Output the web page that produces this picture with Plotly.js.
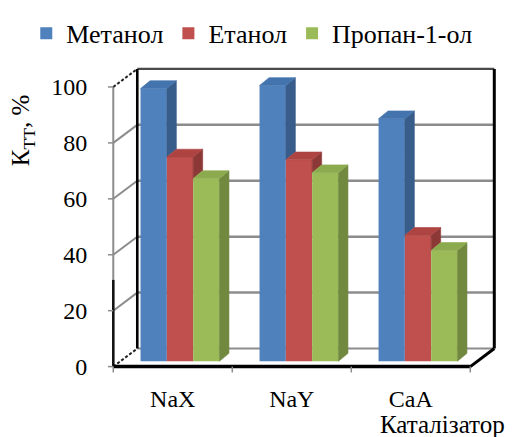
<!DOCTYPE html>
<html>
<head>
<meta charset="utf-8">
<script src="https://cdn.plot.ly/plotly-3.0.1.min.js"></script>
<style>
  html, body { margin: 0; padding: 0; background: #fff; }
  #chart { width: 516px; height: 437px; }
</style>
</head>
<body>
<div id="chart"></div>
<script>
// Conversion degree by catalyst and alcohol
const catalysts = ['NaX', 'NaY', 'CaA'];
const seriesNames = ['Метанол', 'Етанол', 'Пропан-1-ол'];
const methanol = [97.5, 98.6, 86.7];
const ethanol = [73, 72, 45];
const propanol = [65.3, 67.4, 39.6];
const yTicks = [0, 20, 40, 60, 80, 100];
const xTitle = 'Каталізатор';
const yTitle = 'К<sub>ТТ</sub>, %';

const series = [methanol, ethanol, propanol];
const frontColors = ['#4F81BD', '#C0504D', '#9BBB59'];
const topColors = ['#4474AE', '#AD4441', '#8CAA4E'];
const sideColors = ['#385D8A', '#8C3836', '#71893F'];

// Oblique projection of the 3-D box, in axis units
const WALL_DX = 0.2017, WALL_DY = 6.46;        // full depth of floor / side wall
const BAR_FRAC = 0.30;                           // bars stand 30 % into the depth
const BAR_X0 = WALL_DX * BAR_FRAC, BAR_Y0 = WALL_DY * BAR_FRAC;
const BAR_DX = 0.080, BAR_DY = 2.8;              // depth of each column
const BAR_W = 0.221;                             // width of each column
const X_LEFT = -0.5, X_RIGHT = catalysts.length - 0.5;
const Y_MAX = yTicks[yTicks.length - 1];

const FONT = 'Liberation Serif';
const GRID = '#8C8C8C';

const xIdx = catalysts.map((_, i) => i);
const traces = [];

// Front faces of the columns
series.forEach((vals, s) => {
  traces.push({
    type: 'bar',
    name: seriesNames[s],
    x: xIdx,
    y: vals,
    base: vals.map(() => BAR_Y0),
    width: BAR_W,
    offset: BAR_X0 + (s - 1.5) * BAR_W,
    marker: { color: frontColors[s], line: { width: 0 } },
    hovertemplate: seriesNames[s] + ' %{customdata}<extra></extra>',
    customdata: vals
  });
});

// Top and side faces (only the parts not hidden by the neighbour column)
function pushPoly(arr, pts) {
  pts.forEach(p => { arr.x.push(p[0]); arr.y.push(p[1]); });
  arr.x.push(pts[0][0]); arr.y.push(pts[0][1]);
  arr.x.push(null); arr.y.push(null);
}
series.forEach((vals, s) => {
  const topFace = { x: [], y: [] };
  const sideFace = { x: [], y: [] };
  vals.forEach((v, i) => {
    const xl = i + BAR_X0 + (s - 1.5) * BAR_W;
    const xr = xl + BAR_W;
    const yb = BAR_Y0;
    const yt = BAR_Y0 + v;
    const next = s < series.length - 1 ? series[s + 1][i] : null;
    const ytn = next === null ? yb : BAR_Y0 + next;
    if (next === null || v > next) {
      pushPoly(topFace, [[xl, yt], [xr, yt], [xr + BAR_DX, yt + BAR_DY], [xl + BAR_DX, yt + BAR_DY]]);
      pushPoly(sideFace, [[xr, ytn], [xr, yt], [xr + BAR_DX, yt + BAR_DY], [xr + BAR_DX, ytn + BAR_DY]]);
    } else {
      pushPoly(topFace, [[xl, yt], [xr, yt], [xr, yt + BAR_DY], [xl + BAR_DX, yt + BAR_DY]]);
    }
  });
  [[sideFace, sideColors[s]], [topFace, topColors[s]]].forEach(([poly, col]) => {
    traces.push({
      type: 'scatter', mode: 'lines', x: poly.x, y: poly.y,
      fill: 'toself', fillcolor: col,
      line: { color: col, width: 0.6 },
      showlegend: false, hoverinfo: 'skip'
    });
  });
});

// Walls, floor and axes of the box
const shapes = [];
function seg(x0, y0, x1, y1, color, width, dash) {
  shapes.push({
    type: 'line', xref: 'x', yref: 'y', layer: 'below',
    x0, y0, x1, y1,
    line: { color, width, dash: dash || 'solid' }
  });
}
const bx0 = X_LEFT + WALL_DX, bx1 = X_RIGHT + WALL_DX;
// back wall gridlines
yTicks.slice(1, -1).forEach(t => seg(bx0, t + WALL_DY, bx1, t + WALL_DY, GRID, 2.5));
// back floor line
seg(bx0, WALL_DY, bx1, WALL_DY, GRID, 2);
// side wall gridlines
yTicks.slice(1, -1).forEach(t => seg(X_LEFT, t, bx0, t + WALL_DY, GRID, 2));
// front vertical edge of the side wall
seg(X_LEFT, 0, X_LEFT, Y_MAX, GRID, 2);
seg(X_LEFT, 0, X_LEFT, 31, '#111', 2.5);
// top edge of the back wall
seg(bx0, Y_MAX + WALL_DY, bx1, Y_MAX + WALL_DY, '#4A4A4A', 2.2);
// back wall vertical edges
seg(bx0, WALL_DY, bx0, Y_MAX + WALL_DY, '#000', 2.6);
seg(bx1, WALL_DY, bx1, Y_MAX + WALL_DY, '#000', 3);
// dashed diagonals at the top and bottom of the side wall
seg(X_LEFT, Y_MAX, bx0, Y_MAX + WALL_DY, '#222', 2, '3px,2px');
seg(X_LEFT, 0, bx0, WALL_DY, '#222', 2, '3px,2px');
// floor front edge and right edge
seg(X_LEFT, 0, X_RIGHT, 0, '#000', 3.5);
seg(X_RIGHT, 0, bx1, WALL_DY, '#000', 3);
// tick marks
for (let k = 0; k <= catalysts.length; k++) seg(X_LEFT + k, 0, X_LEFT + k, -2.1, GRID, 1.5);
yTicks.forEach(t => seg(X_LEFT - 0.045, t, X_LEFT, t, GRID, 1.5));

// Pixel layout of the plotting area
const PX_PER_X = 119, PX_PER_Y = 2.865;
const X_RANGE = [-0.62, 2.8], Y_RANGE = [-3, 110];
const plotLeft = 113 + (X_RANGE[0] - X_LEFT) * PX_PER_X;
const plotW = (X_RANGE[1] - X_RANGE[0]) * PX_PER_X;
const plotTop = 366.5 - Y_RANGE[1] * PX_PER_Y;
const plotH = (Y_RANGE[1] - Y_RANGE[0]) * PX_PER_Y;
const plotBottom = plotTop + plotH;
const px2paperX = px => (px - plotLeft) / plotW;
const px2paperY = py => (plotBottom - py) / plotH;

const tickFont = { family: FONT, size: 24, color: '#000' };

const layout = {
  width: 516, height: 437,
  margin: { l: plotLeft, r: 516 - plotLeft - plotW, t: plotTop, b: 437 - plotTop - plotH, pad: 0 },
  paper_bgcolor: '#fff', plot_bgcolor: 'rgba(0,0,0,0)',
  font: { family: FONT, size: 24, color: '#000' },
  showlegend: true,
  barmode: 'overlay',
  xaxis: {
    range: X_RANGE, fixedrange: true, automargin: false,
    tickvals: xIdx, ticktext: catalysts,
    ticks: 'outside', ticklen: 2, tickcolor: 'rgba(0,0,0,0)',
    showgrid: false, zeroline: false, showline: false,
    tickfont: tickFont
  },
  yaxis: {
    range: Y_RANGE, fixedrange: true, automargin: false,
    tickvals: yTicks, ticktext: yTicks.map(String),
    ticks: 'outside', ticklen: 6, tickcolor: 'rgba(0,0,0,0)',
    showgrid: false, zeroline: false, showline: false,
    tickfont: tickFont
  },
  legend: {
    orientation: 'h', xanchor: 'left', yanchor: 'middle',
    x: px2paperX(26), y: px2paperY(25),
    font: { family: FONT, size: 26, color: '#000' },
    itemwidth: 30, bgcolor: 'rgba(0,0,0,0)', traceorder: 'normal'
  },
  shapes,
  annotations: [
    {
      text: xTitle, xref: 'paper', yref: 'paper',
      x: px2paperX(507), y: px2paperY(426), xanchor: 'right', yanchor: 'middle',
      showarrow: false, font: { family: FONT, size: 25, color: '#000' }
    },
    {
      text: yTitle, xref: 'paper', yref: 'paper',
      x: px2paperX(23), y: px2paperY(125), xanchor: 'center', yanchor: 'middle',
      textangle: -90, showarrow: false, font: { family: FONT, size: 25, color: '#000' }
    }
  ]
};

Plotly.newPlot('chart', traces, layout, { staticPlot: true, displayModeBar: false });
</script>
</body>
</html>
